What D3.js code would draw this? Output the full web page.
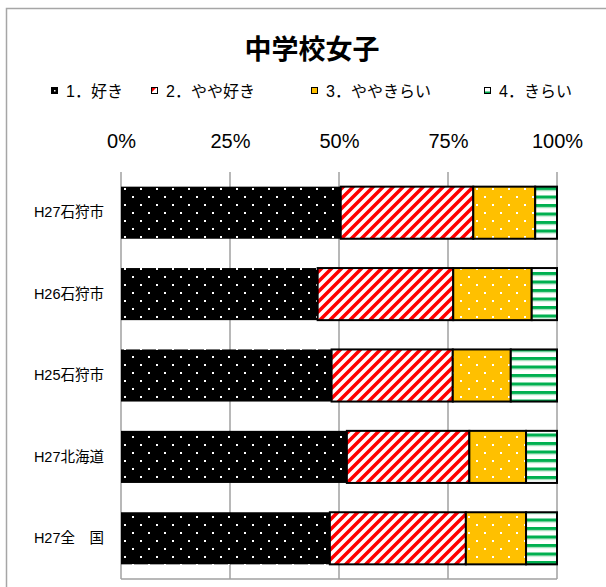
<!DOCTYPE html>
<html><head><meta charset="utf-8">
<script src="https://cdn.jsdelivr.net/npm/d3@7"></script>
<style>
html,body{margin:0;padding:0;background:#fff;}
svg{display:block;}
</style></head>
<body>
<script>
const categories = ["H27石狩市", "H26石狩市", "H25石狩市", "H27北海道", "H27全　国"];
const seriesNames = ["1．好き", "2．やや好き", "3．ややきらい", "4．きらい"];
const like      = [50.4, 45.1, 48.3, 51.8, 47.9];
const someLike  = [30.4, 31.1, 27.8, 28.1, 31.2];
const someDis   = [14.2, 18.0, 13.3, 13.0, 13.8];
const dislike   = [5.0, 5.8, 10.6, 7.1, 7.1];
const tickValues = [0, 25, 50, 75, 100];
const title = "中学校女子";

const W = 606, H = 587;
const svg = d3.select("body").append("svg").attr("width", W).attr("height", H);
const defs = svg.append("defs");

// patterns
const p1 = defs.append("pattern").attr("id","pDots").attr("patternUnits","userSpaceOnUse").attr("width",16).attr("height",16);
p1.append("rect").attr("width",16).attr("height",16).attr("fill","#000");
p1.append("rect").attr("x",4).attr("y",4).attr("width",2).attr("height",2).attr("fill","#fff");
p1.append("rect").attr("x",12).attr("y",12).attr("width",2).attr("height",2).attr("fill","#fff");

const p2 = defs.append("pattern").attr("id","pDiag").attr("patternUnits","userSpaceOnUse").attr("width",10).attr("height",10);
p2.append("rect").attr("width",10).attr("height",10).attr("fill","#fff");
p2.append("path").attr("d","M-2,2 L2,-2 M0,10 L10,0 M8,12 L12,8").attr("stroke","#ff0000").attr("stroke-width",3.5);

const p3 = defs.append("pattern").attr("id","pOrange").attr("patternUnits","userSpaceOnUse").attr("width",16).attr("height",16);
p3.append("rect").attr("width",16).attr("height",16).attr("fill","#ffc000");
p3.append("rect").attr("x",4).attr("y",4).attr("width",2).attr("height",2).attr("fill","#fff");
p3.append("rect").attr("x",12).attr("y",12).attr("width",2).attr("height",2).attr("fill","#fff");

const p4 = defs.append("pattern").attr("id","pGreen").attr("patternUnits","userSpaceOnUse").attr("width",8).attr("height",8.5);
p4.append("rect").attr("width",8).attr("height",8.5).attr("fill","#fff");
p4.append("rect").attr("y",0).attr("width",8).attr("height",3).attr("fill","#00b050");
p4.append("rect").attr("y",3).attr("width",8).attr("height",1).attr("fill","#8fd9ad");

const fills = ["url(#pDots)","url(#pDiag)","url(#pOrange)","url(#pGreen)"];

// chart border
svg.append("rect").attr("x",6.5).attr("y",8.5).attr("width",640).attr("height",640)
  .attr("fill","none").attr("stroke","#a6a6a6").attr("stroke-width",1.5);

// title
svg.append("text").attr("x",312).attr("y",47).attr("text-anchor","middle").attr("dominant-baseline","central")
  .attr("font-family","'Noto Sans CJK JP', sans-serif").attr("font-weight","bold").attr("font-size",27)
  .attr("fill","#000").text(title);

// legend
const legendX = [51, 151, 311, 484];
const lg = svg.append("g");
seriesNames.forEach((n,i)=>{
  const g = lg.append("g").attr("transform",`translate(${legendX[i]},0)`);
  if (i===0){
    g.append("rect").attr("x",0.5).attr("y",87.5).attr("width",6).attr("height",6).attr("fill","#000").attr("stroke","#000");
    g.append("rect").attr("x",3).attr("y",90).attr("width",1.5).attr("height",1.5).attr("fill","#fff");
  } else if (i===1){
    g.append("rect").attr("x",0.5).attr("y",87.5).attr("width",6).attr("height",6).attr("fill","#fff").attr("stroke","#000");
    g.append("path").attr("d","M1,88 L5,88 L1,92 Z").attr("fill","#ff0000");
  } else if (i===2){
    g.append("rect").attr("x",0.5).attr("y",87.5).attr("width",6).attr("height",6).attr("fill","#ffc000").attr("stroke","#000");
  } else {
    g.append("rect").attr("x",0.5).attr("y",87.5).attr("width",6).attr("height",6).attr("fill","#fff").attr("stroke","#000");
    g.append("rect").attr("x",1).attr("y",91.5).attr("width",5).attr("height",1.5).attr("fill","#00b050");
  }
  g.append("text").attr("x",15).attr("y",91).attr("dominant-baseline","central")
    .attr("font-family","'Liberation Sans','Noto Sans CJK JP',sans-serif").attr("font-size",16)
    .attr("fill","#000").text(n);
});

// scales
const x = d3.scaleLinear().domain([0,100]).range([121,557]);
const y = d3.scaleBand().domain(categories).range([172,579]).paddingInner(0.36).paddingOuter(0.18);

// gridlines
const grid = svg.append("g");
grid.selectAll("line").data(tickValues).join("line")
  .attr("x1",d=>x(d)).attr("x2",d=>x(d)).attr("y1",172).attr("y2",579)
  .attr("stroke","#a0a0a0").attr("stroke-width",1.5);
svg.append("line").attr("x1",x(0)).attr("x2",x(100)).attr("y1",579).attr("y2",579)
  .attr("stroke","#a0a0a0").attr("stroke-width",1.5);

// top axis labels
const xAxis = d3.axisTop(x).tickValues(tickValues).tickFormat(d=>d+"%").tickSize(0).tickPadding(0);
const ax = svg.append("g").attr("transform","translate(0,148)").call(xAxis);
ax.select(".domain").remove();
ax.selectAll("text").attr("font-family","'Liberation Sans',Arial,sans-serif").attr("font-size",20).attr("fill","#000");

// y axis labels
const yAxis = d3.axisLeft(y).tickSize(0).tickPadding(0);
const ay = svg.append("g").attr("transform","translate(104,0)").call(yAxis);
ay.select(".domain").remove();
ay.selectAll("text").attr("font-family","'Liberation Sans','Noto Sans CJK JP',sans-serif").attr("font-size",14.5).attr("fill","#000");

// stacked bars
const rows = categories.map((c,i)=>({cat:c, s0:like[i], s1:someLike[i], s2:someDis[i], s3:dislike[i]}));
const stack = d3.stack().keys(["s0","s1","s2","s3"])(rows);
const bars = svg.append("g");
stack.forEach((layer,k)=>{
  bars.append("g").selectAll("rect").data(layer).join("rect")
    .attr("x",d=>x(d[0])).attr("width",d=>x(d[1])-x(d[0]))
    .attr("y",d=>y(d.data.cat)).attr("height",y.bandwidth())
    .attr("fill",fills[k]).attr("stroke","#000").attr("stroke-width",k===0?0:2);
});
</script>
</body></html>
